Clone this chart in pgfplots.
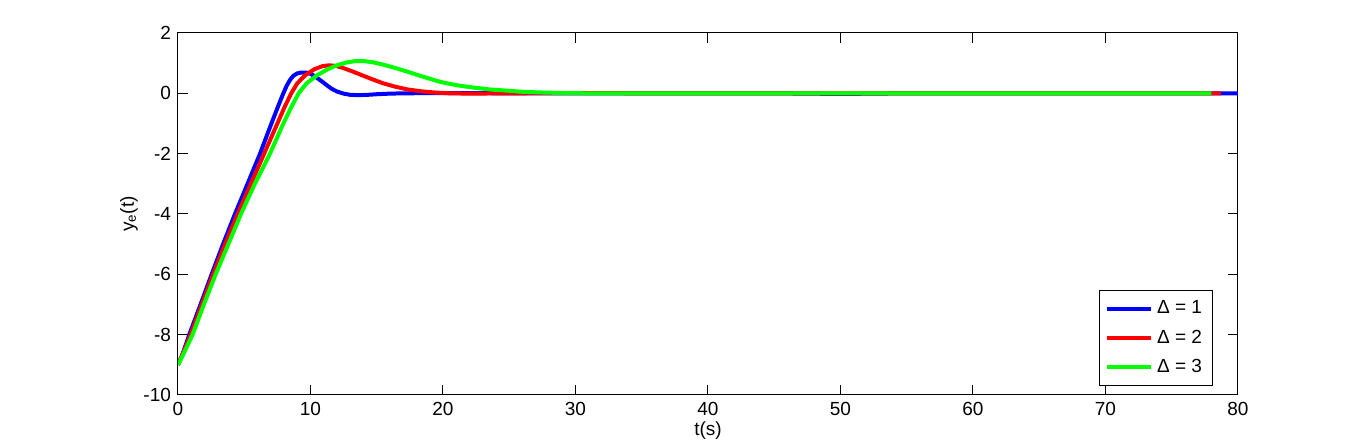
\documentclass[border=0pt]{standalone}
\usepackage{fontspec}
\setmainfont{Liberation Sans}
\usepackage{pgfplots}
\pgfplotsset{compat=1.18}

\begin{document}
\begin{tikzpicture}[x=1pt,y=1pt]
    \path[use as bounding box] (-89,-25) rectangle (594.5,197.5);
    \begin{axis}[
            at={(0,0)}, anchor=south west,
            scale only axis,
            width=530pt, height=181pt,
            xmin=0, xmax=80, ymin=-10, ymax=2,
            xtick={0,10,...,80},
            xticklabels={0,10,20,30,40,50,60,70,80},
            ytick={-10,-8,...,2},
            yticklabels={-10,-8,-6,-4,-2,0,2},
            tick label style={font=\fontsize{9.5}{11}\selectfont},
            label style={font=\fontsize{9.5}{11}\selectfont},
            tick align=inside,
            major tick length=5pt,
            axis line style={line width=0.5pt},
            tick style={line width=0.5pt, black},
            xlabel={t(s)},
            ylabel={y\textsubscript{e}(t)},
            xlabel style={yshift=4pt},
            ylabel style={yshift=-4pt},
            legend cell align=left,
            legend style={
                    at={(0.976,0.025)}, anchor=south east,
                    draw=black, line width=0.5pt,
                    font=\fontsize{9.5}{15}\selectfont,
                    row sep=2.5pt,
                    inner sep=3pt
                },
            legend image code/.code={\draw[#1,line width=2pt] (0pt,0pt) -- (22pt,0pt);},
            every axis plot/.append style={line width=2pt, line join=round}
        ]
        % Delta = 1
        \addplot[color={rgb,255:red,0;green,0;blue,255}] coordinates {
                (0,-9.0) (0.3,-8.7) (0.85,-8.0) (1.7,-7.0) (2.54,-6.0) (3.4,-5.0)
                (4.3,-4.0) (5.25,-3.0) (6.19,-2.0) (7.05,-1.0) (7.6,-0.38) (7.95,0)
                (8.2,0.25) (8.45,0.44) (8.7,0.58) (9.0,0.66) (9.3,0.69) (9.7,0.69)
                (10.0,0.65) (10.3,0.57) (10.6,0.48) (10.9,0.38) (11.2,0.28) (11.6,0.15)
                (12.0,0.06) (12.5,-0.01) (13.0,-0.05) (13.6,-0.06) (14.3,-0.05)
                (15.0,-0.03) (16,-0.01) (17,0) (20,0.01) (25,0) (45,0) (50,-0.02)
                (55,0) (80,0)
            };
        % Delta = 2
        \addplot[color={rgb,255:red,255;green,0;blue,0}] coordinates {
                (0,-9.0) (0.3,-8.7) (0.95,-8.0) (1.8,-7.0) (2.65,-6.0) (3.55,-5.0)
                (4.5,-4.0) (5.5,-3.0) (6.5,-2.0) (7.5,-1.0) (8.1,-0.4) (8.55,0)
                (9.0,0.33) (9.6,0.6) (10.3,0.8) (10.9,0.9) (11.4,0.93) (11.9,0.91)
                (12.4,0.85) (13.2,0.72) (14.0,0.58) (14.7,0.46) (15.5,0.33)
                (16.4,0.22) (17.3,0.13) (18.3,0.07) (19.3,0.03) (20.5,0.0)
                (22,-0.01) (25,0) (30,0.01) (35,0) (78.7,0)
            };
        % Delta = 3
        \addplot[color={rgb,255:red,0;green,255;blue,0}] coordinates {
                (0,-9.0) (0.35,-8.7) (1.1,-8.0) (1.95,-7.0) (2.84,-6.0) (3.8,-5.0)
                (4.75,-4.0) (5.8,-3.0) (6.94,-2.0) (7.95,-1.0) (8.5,-0.5) (9.1,0)
                (9.7,0.33) (10.5,0.6) (11.3,0.8) (12.0,0.93) (12.7,1.02) (13.4,1.07)
                (14.0,1.07) (14.7,1.03) (15.5,0.95) (16.4,0.84) (17.3,0.72)
                (18.5,0.55) (19.8,0.38) (21,0.27) (22.3,0.19) (23.5,0.13) (24.8,0.09)
                (26,0.05) (27.3,0.03) (29,0.01) (31,0) (78,0)
            };
        \legend{Δ = 1, Δ = 2, Δ = 3}
    \end{axis}
\end{tikzpicture}
\end{document}
